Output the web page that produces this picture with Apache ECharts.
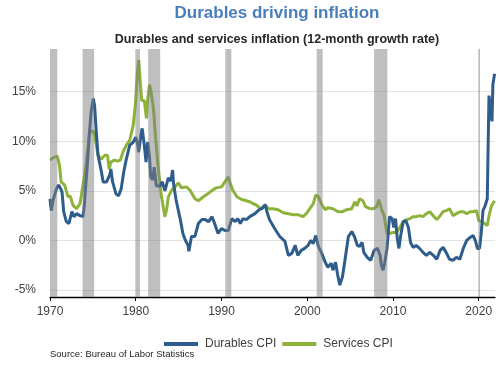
<!DOCTYPE html>
<html>
<head>
<meta charset="utf-8">
<script src="https://cdn.jsdelivr.net/npm/echarts@6/dist/echarts.min.js"></script>
<style>
html,body{margin:0;padding:0;background:#fff;}
#c{width:500px;height:365px;}
</style>
</head>
<body>
<div id="c"></div>
<script>
var durYears = [1970.0,1970.15,1970.35,1970.75,1971.0,1971.25,1971.4,1971.6,1971.9,1972.2,1972.4,1972.55,1972.8,1973.1,1973.5,1973.85,1974.0,1974.2,1974.4,1974.6,1974.8,1975.05,1975.2,1975.4,1975.6,1976.0,1976.2,1976.6,1976.8,1977.0,1977.1,1977.3,1977.7,1978.0,1978.3,1978.6,1978.9,1979.3,1979.7,1980.0,1980.2,1980.35,1980.6,1980.75,1981.0,1981.2,1981.4,1981.6,1981.75,1982.0,1982.15,1982.4,1982.6,1982.8,1983.1,1983.4,1983.8,1984.1,1984.3,1984.4,1984.7,1984.95,1985.2,1985.5,1985.8,1986.1,1986.2,1986.5,1986.9,1987.3,1987.7,1988.1,1988.5,1988.9,1989.2,1989.6,1990.0,1990.4,1990.8,1991.2,1991.6,1991.9,1992.2,1992.5,1992.9,1993.3,1993.9,1994.4,1994.7,1995.1,1995.3,1995.6,1996.2,1996.8,1997.4,1997.8,1998.2,1998.6,1998.9,1999.3,1999.7,2000.1,2000.4,2000.7,2001.0,2001.3,2001.7,2002.1,2002.4,2002.8,2003.0,2003.3,2003.6,2003.8,2004.1,2004.4,2004.8,2005.2,2005.5,2005.85,2006.1,2006.4,2006.6,2007.0,2007.4,2007.8,2008.2,2008.5,2008.65,2008.85,2009.05,2009.3,2009.4,2009.6,2009.9,2010.1,2010.3,2010.5,2010.7,2010.9,2011.2,2011.5,2011.8,2012.05,2012.35,2012.7,2013.1,2013.5,2013.9,2014.3,2014.7,2015.1,2015.5,2015.85,2016.2,2016.6,2017.0,2017.4,2017.8,2018.2,2018.6,2019.0,2019.35,2019.6,2019.85,2020.1,2020.3,2020.5,2020.75,2021.0,2021.1,2021.2,2021.4,2021.55,2021.65,2021.85];
var durVals = [4.2,3.0,4.0,5.2,5.6,5.2,4.9,2.9,1.9,1.7,1.5,2.9,2.4,2.7,2.5,2.4,3.5,5.9,8.2,10.9,13.0,14.3,13.6,10.9,8.6,6.9,5.9,5.9,6.1,6.7,7.2,5.9,4.7,4.5,5.2,6.9,8.2,9.6,9.9,10.4,9.8,8.9,10.6,11.3,9.6,7.9,9.9,8.5,6.4,6.1,7.4,5.5,5.3,5.5,5.9,5.0,6.3,6.0,7.1,5.8,4.1,3.1,2.1,0.7,0.0,-0.5,-1.1,0.4,0.4,1.7,2.1,2.1,1.9,2.4,1.7,0.7,1.2,1.0,1.0,2.2,1.9,2.2,1.7,2.2,2.1,2.4,2.7,3.1,3.2,3.6,2.9,2.1,1.2,0.4,-0.1,-1.5,-1.3,-0.5,-1.5,-1.0,-0.8,-0.5,0.0,-0.3,0.5,-0.6,-1.3,-2.2,-2.7,-2.3,-3.0,-2.2,-3.7,-4.5,-3.7,-2.0,0.4,0.9,0.4,-0.5,-0.6,-0.2,-1.2,-1.7,-2.0,-1.0,-0.8,-1.5,-2.5,-3.0,-2.2,-0.8,0.2,2.4,2.2,1.3,2.2,0.2,-0.8,0.5,1.9,2.0,1.3,-0.2,-0.7,-0.5,-0.8,-1.2,-1.5,-1.2,-1.5,-1.9,-1.0,-0.7,-1.2,-1.9,-2.0,-1.7,-1.9,-0.8,0.0,0.3,0.5,0.0,-0.8,-0.8,0.8,3.0,3.5,4.2,9.6,14.6,14.5,12.0,15.7,16.8];

var svcYears = [1970.0,1970.5,1970.85,1971.1,1971.3,1971.7,1972.1,1972.35,1972.7,1973.1,1973.5,1973.85,1974.2,1974.6,1975.0,1975.2,1975.6,1976.0,1976.4,1976.7,1976.9,1977.1,1977.5,1977.9,1978.2,1978.5,1978.9,1979.3,1979.7,1979.95,1980.2,1980.35,1980.5,1980.7,1981.0,1981.25,1981.4,1981.6,1981.8,1982.1,1982.3,1982.6,1983.0,1983.4,1983.6,1983.8,1984.2,1984.6,1984.96,1985.35,1985.9,1986.3,1986.9,1987.3,1987.9,1988.4,1989.0,1989.4,1990.0,1990.4,1990.8,1991.0,1991.3,1991.8,1992.2,1992.5,1992.9,1993.3,1993.7,1994.0,1994.3,1994.7,1995.1,1995.45,1996.0,1996.6,1997.2,1997.8,1998.4,1998.9,1999.5,1999.9,2000.3,2000.7,2001.0,2001.3,2001.7,2002.1,2002.4,2003.0,2003.6,2004.1,2004.6,2005.2,2005.55,2005.8,2006.1,2006.5,2006.8,2007.3,2007.7,2008.1,2008.35,2008.65,2008.97,2009.3,2009.6,2010.0,2010.4,2010.8,2011.2,2011.6,2012.0,2012.3,2012.7,2013.1,2013.5,2013.9,2014.3,2014.7,2015.1,2015.5,2015.85,2016.2,2016.6,2017.0,2017.4,2017.8,2018.2,2018.6,2019.0,2019.35,2019.75,2020.0,2020.3,2020.7,2021.0,2021.2,2021.5,2021.85];
var svcVals = [8.1,8.4,8.5,7.6,5.9,5.6,4.4,4.5,3.5,3.2,3.7,5.6,7.6,10.8,11.1,10.6,8.6,8.2,8.6,8.6,7.2,7.9,8.1,8.0,8.1,8.9,9.6,10.1,11.6,13.6,17.0,18.2,16.3,14.1,14.1,12.3,14.3,15.7,15.0,13.0,10.5,7.5,4.4,2.4,3.1,4.4,5.1,5.4,5.8,5.3,5.4,5.1,4.2,4.0,4.4,4.7,5.1,5.3,5.4,5.9,6.4,5.8,5.1,4.4,4.2,4.1,4.0,3.9,3.7,3.6,3.4,3.2,3.6,3.2,3.2,3.1,2.8,2.7,2.6,2.6,2.4,2.7,3.2,3.7,4.6,4.4,3.6,3.1,3.3,3.2,2.9,2.9,3.1,3.2,3.9,3.5,4.2,4.0,3.4,3.2,3.2,3.4,4.1,3.2,2.5,0.7,0.7,0.8,0.8,1.3,1.9,2.1,2.2,2.4,2.4,2.5,2.4,2.7,2.9,2.5,2.1,2.5,2.9,3.0,3.2,2.5,2.7,2.9,2.9,2.7,2.9,2.9,3.0,2.0,1.9,1.7,1.5,2.5,3.5,4.0];

var recStart = [1969.9,1973.8,1979.95,1981.45,1990.45,2001.1,2007.8,2019.95];
var recEnd   = [1970.85,1975.15,1980.5,1982.85,1991.15,2001.8,2009.35,2020.15];

var yTicks = [-5,0,5,10,15];
var xTicks = [1970,1980,1990,2000,2010,2020];
var Y_MIN = -5.7, Y_MAX = 19.3;

function zip(a,b){var r=[];for(var i=0;i<a.length;i++)r.push([a[i],b[i]]);return r;}
var recData=[];for(var i=0;i<recStart.length;i++)recData.push([recStart[i],recEnd[i]]);

var chart = echarts.init(document.getElementById('c'), null, {renderer:'canvas'});
chart.setOption({
  animation:false,
  textStyle:{fontFamily:'"Liberation Sans", Arial, sans-serif'},
  title:[
    {text:'Durables driving inflation',left:272,textAlign:'center',top:0,textStyle:{fontSize:17,fontWeight:'bold',color:'#4a7ebb'}},
    {text:'Durables and services inflation (12-month growth rate)',left:272,textAlign:'center',top:28,textStyle:{fontSize:12.5,fontWeight:'bold',color:'#262626'}}
  ],
  grid:{left:50,right:5,top:49,bottom:68,containLabel:false},
  xAxis:{type:'value',min:1970,max:2021.9,interval:10,
    axisLine:{show:true,onZero:false,lineStyle:{color:'#000',width:1.3}},
    axisTick:{show:true,length:4,lineStyle:{color:'#000'},customValues:xTicks},
    axisLabel:{color:'#404040',fontSize:12,margin:9,customValues:xTicks,formatter:function(v){return String(v);}},
    splitLine:{show:false}},
  yAxis:{type:'value',min:Y_MIN,max:Y_MAX,
    axisLine:{show:false},
    axisTick:{show:false,customValues:yTicks},
    axisLabel:{color:'#404040',fontSize:12,margin:14,customValues:yTicks,formatter:function(v){return v+'%';}},
    splitLine:{show:true,lineStyle:{color:'#e3e3e3',width:1}}},
  legend:{data:['Durables CPI','Services CPI'],top:333,left:159,icon:'rect',itemWidth:34,itemHeight:4,itemGap:6,
    textStyle:{fontSize:12,color:'#404040',padding:[0,0,0,2]}},
  graphic:[{type:'text',left:50,top:349,style:{text:'Source: Bureau of Labor Statistics',fontSize:9.5,fill:'#262626',fontFamily:'"Liberation Sans", Arial, sans-serif'}}],
  series:[
    {name:'Durables CPI',type:'line',data:zip(durYears,durVals),showSymbol:false,z:3,lineStyle:{color:'#2e5d8c',width:3},itemStyle:{color:'#2e5d8c'}},
    {name:'Services CPI',type:'line',data:zip(svcYears,svcVals),showSymbol:false,z:2,lineStyle:{color:'#8db33a',width:3},itemStyle:{color:'#8db33a'}},
    {name:'rec',type:'custom',zlevel:1,z:10,silent:true,clip:true,data:recData,
      renderItem:function(params,api){
        var p0=api.coord([api.value(0),Y_MAX]);
        var p1=api.coord([api.value(1),Y_MIN]);
        var rect=echarts.graphic.clipRectByRect({x:p0[0],y:p0[1],width:p1[0]-p0[0],height:p1[1]-p0[1]},
          {x:params.coordSys.x,y:params.coordSys.y,width:params.coordSys.width,height:params.coordSys.height});
        return rect && {type:'rect',shape:rect,style:{fill:'rgba(128,128,128,0.5)'}};
      }}
  ]
});
</script>
</body>
</html>
